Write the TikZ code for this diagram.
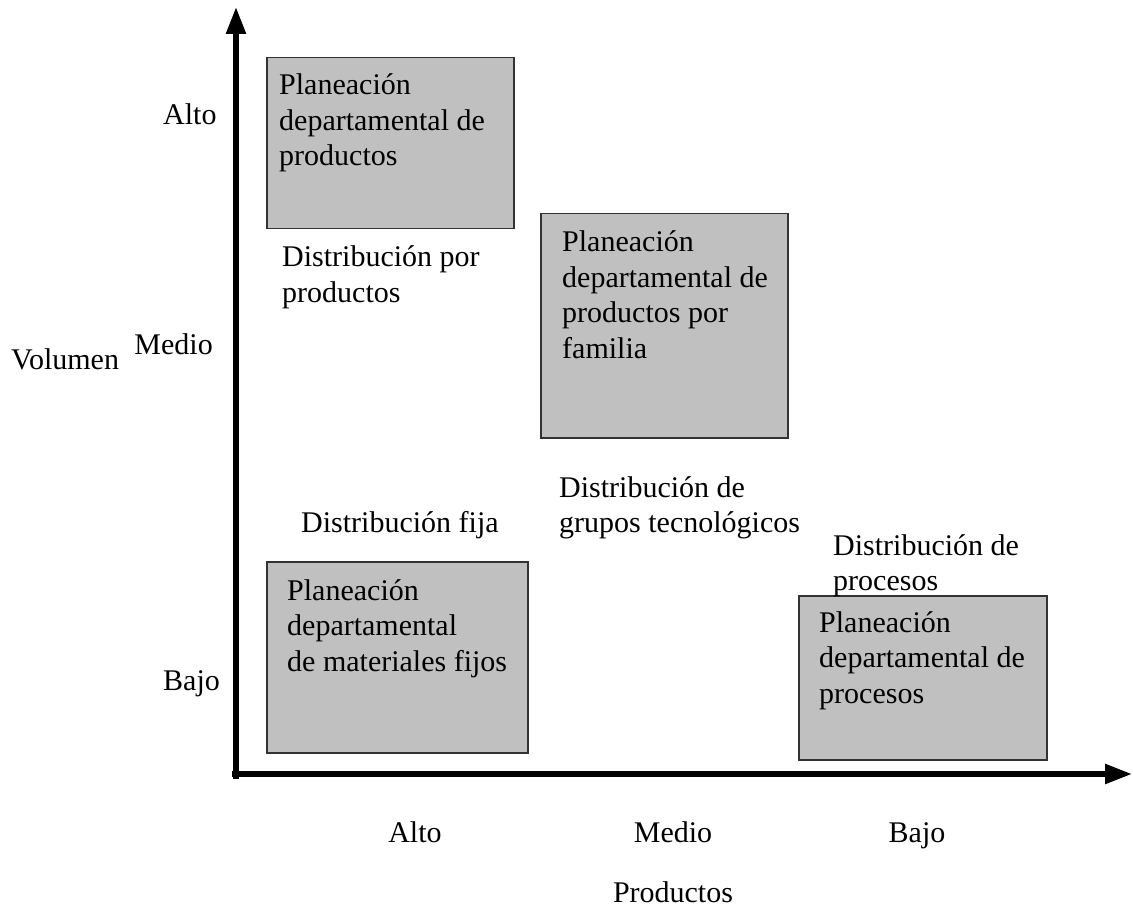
\documentclass[tikz,border=0pt]{standalone}
\usepackage{fontspec}
\setmainfont{Liberation Serif}
\usetikzlibrary{arrows.meta}
\definecolor{boxgray}{HTML}{C0C0C0}
\definecolor{boxline}{HTML}{333333}
\newcommand{\mlines}[1]{\vtop{\halign{##\hfil\cr#1\crcr}}}
\begin{document}
\begin{tikzpicture}[x=1pt,y=-1pt,
  every node/.style={font=\fontsize{30}{35.5}\selectfont},
  box/.style={draw=boxline,line width=1.5pt,fill=boxgray,anchor=north west,inner sep=0pt},
  txt/.style={anchor=base west,inner sep=0pt},
  lbl/.style={inner sep=0pt},
  axis/.style={line width=5.5pt,-{Triangle[length=27pt,width=19pt]}}]
\useasboundingbox (0,0) rectangle (1133,909);
% axes
\coordinate (yb) at (236,779);
\coordinate (xb) at (232,774);
\coordinate (ytip) at (236,7);
\coordinate (xtip) at (1132,774);
\draw[axis] (yb) -- (ytip);
\draw[axis] (xb) -- (xtip);
% boxes
\node[box,minimum width=247pt,minimum height=171pt] (b1) at (266,57) {};
\node[box,minimum width=247pt,minimum height=224pt] (b2) at (540,213) {};
\node[box,minimum width=261pt,minimum height=191pt] (b3) at (266,561) {};
\node[box,minimum width=248pt,minimum height=164pt] (b4) at (798,595) {};
% box texts
\node[txt] (t1) at (279,95) {\mlines{Planeación\cr departamental de\cr productos}};
\node[txt] (t2) at (562,252) {\mlines{Planeación\cr departamental de\cr productos por\cr familia}};
\node[txt] (t3) at (287,600) {\mlines{Planeación\cr departamental\cr de materiales fijos}};
\node[txt] (t4) at (819,632) {\mlines{Planeación\cr departamental de\cr procesos}};
% distribution labels
\node[txt] (d1) at (282,267) {\mlines{Distribución por\cr productos}};
\node[txt] (d2) at (301,532) {Distribución fija};
\node[txt] (d3) at (559,497) {\mlines{Distribución de\cr grupos tecnológicos}};
\node[txt] (d4) at (833,555) {\mlines{Distribución de\cr procesos}};
% y axis labels
\node[lbl,anchor=base west] (ya) at (163,125) {Alto};
\node[lbl,anchor=base east] (ym) at (213,355) {Medio};
\node[lbl,anchor=base west] (yv) at (11,370) {Volumen};
\node[lbl,anchor=base west] (yj) at (163,690) {Bajo};
% x axis labels
\node[lbl,anchor=base] (xa) at (415,842) {Alto};
\node[lbl,anchor=base] (xm) at (673,842) {Medio};
\node[lbl,anchor=base] (xj) at (917,842) {Bajo};
\node[lbl,anchor=base] (xp) at (673,902) {Productos};
\end{tikzpicture}
\end{document}
